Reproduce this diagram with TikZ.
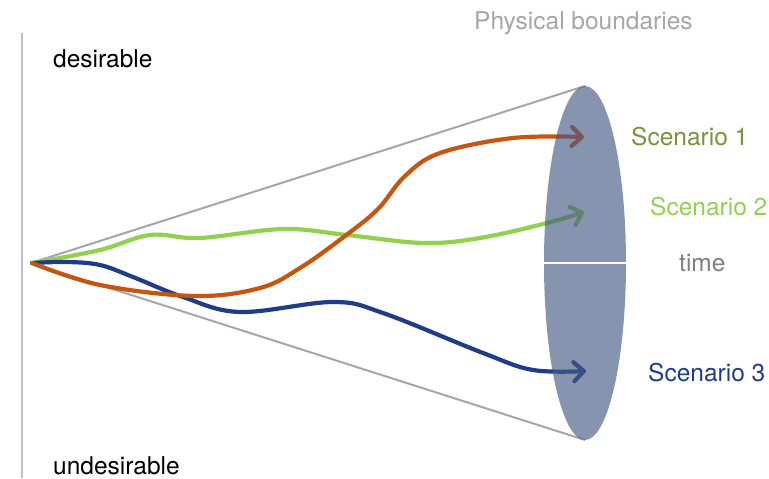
\documentclass[tikz,border=0pt]{standalone}
\usepackage{fontspec}
\setmainfont{TeX Gyre Heros}
\usetikzlibrary{arrows.meta,shapes.geometric}
\definecolor{orangeC}{RGB}{197,85,15}
\definecolor{greenC}{RGB}{146,208,80}
\definecolor{blueC}{RGB}{31,60,136}
\definecolor{oliveC}{RGB}{119,147,60}
\definecolor{ellC}{RGB}{70,90,132}
\definecolor{coneC}{RGB}{166,166,166}
\definecolor{axisC}{RGB}{191,191,191}
\definecolor{timeC}{RGB}{127,127,127}
\tikzset{
  lbl/.style={anchor=base west,inner sep=0pt,font=\fontsize{24.5bp}{29bp}\selectfont},
  scen/.style={line width=4.2bp,line cap=round,-{Straight Barb[length=10bp,width=19bp,round]}},
  cone/.style={draw=coneC,line width=2bp},
  boundary/.style={ellipse,inner sep=0pt,minimum width=82bp,minimum height=354bp,fill=ellC,fill opacity=0.65}
}
\begin{document}
\begin{tikzpicture}[x=1bp,y=-1bp]
\useasboundingbox (0,0) rectangle (769,479);
\coordinate (apex) at (31,263);
\coordinate (top) at (585,86);
\coordinate (bot) at (585,440);
\coordinate (axT) at (22,33);
\coordinate (axB) at (22,478);
\draw[draw=axisC,line width=1.8bp] (axT) -- (axB);
\draw[cone] (apex) -- (top);
\draw[cone] (apex) -- (bot);
% scenarios
\draw[scen,greenC] plot[smooth,tension=0.6] coordinates {(32,263) (100,250) (150,235) (200,238) (283,229) (347,235) (423,243) (480,238) (547,223) (584,212)};
\draw[scen,blueC] plot[smooth,tension=0.6] coordinates {(32,263) (67,262) (100,265) (133,277) (183,297) (240,312) (333,302) (383,313) (483,353) (533,370) (586,371)};
\draw[scen,orangeC] plot[smooth,tension=0.6] coordinates {(32,263) (100,285) (195,296) (260,288) (300,268) (345,236) (378,209) (405,176) (440,153) (513,138) (584,137)};
% boundary ellipse
\node[boundary] (ell) at (585,263) {};
\draw[white,line width=1.5bp] (ell.west) -- (ell.east);
% labels
\node[lbl] (des) at (53,68) {desirable};
\node[lbl] (undes) at (53,474) {undesirable};
\node[lbl,text=coneC] (phys) at (474,30) {Physical boundaries};
\node[lbl,text=oliveC] (s1) at (631,146) {Scenario 1};
\node[lbl,text=greenC] (s2) at (650,216) {Scenario 2};
\node[lbl,text=timeC] (time) at (679,272) {time};
\node[lbl,text=blueC] (s3) at (648,381) {Scenario 3};
\end{tikzpicture}
\end{document}
